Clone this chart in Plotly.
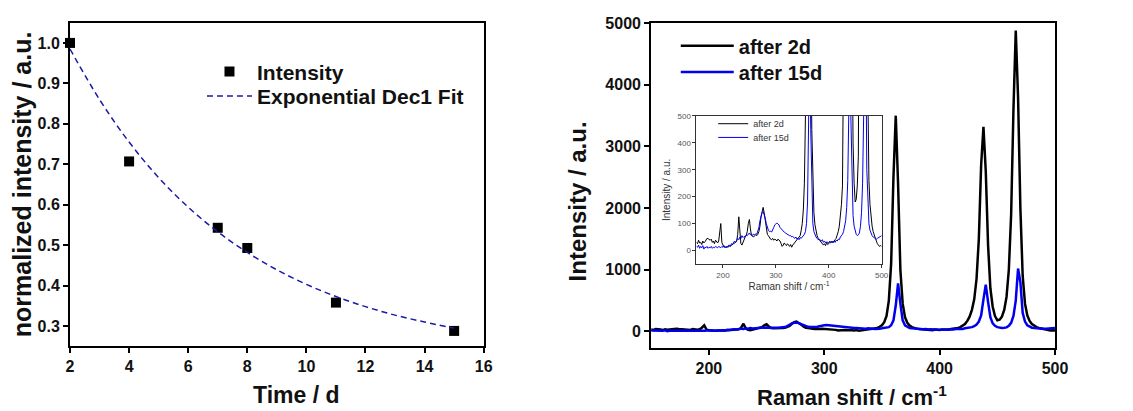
import plotly.graph_objects as go

W, H = 1133, 411

# ---------------- data: left panel ----------------
time_d = [2, 4, 7, 8, 11, 15]
norm_int = [1.0, 0.707, 0.543, 0.493, 0.358, 0.288]
fit_x = [2, 3, 4, 5, 6, 7, 8, 9, 10, 11, 12, 13, 14, 15]
fit_y = [0.985, 0.86, 0.755, 0.667, 0.594, 0.533, 0.482, 0.439, 0.403, 0.373, 0.348, 0.327, 0.310, 0.295]

# ---------------- data: right panel (Raman spectra) ----------------
raman_shift = list(range(150, 501, 2))
after_2d = [
    30, 25, 38, 28, 30, 22, 35, 28, 32, 40,      # 150-168
    45, 44, 40, 38, 42, 30, 35, 25, 38, 30,      # 170-188
    28, 35, 60, 100, 30, 18, 12, 15, 10, 14,     # 190-208
    12, 18, 15, 20, 22, 25, 28, 30, 35, 60,      # 210-228
    125, 50, 25, 20, 30, 45, 50, 55, 70, 100,    # 230-248
    115, 80, 55, 52, 50, 55, 58, 55, 60, 70,     # 250-268
    90, 125, 150, 160, 140, 110, 80, 60, 55, 45, # 270-288
    42, 40, 45, 38, 42, 40, 35, 42, 38, 35,      # 290-308
    25, 15, 20, 28, 22, 18, 25, 20, 15, 22,      # 310-328
    12, 20, 25, 30, 32, 40, 45, 50, 55, 75,      # 330-348
    100, 150, 250, 500, 1100, 2500, 3500, 2400, 1000, 450,  # 350-368
    230, 140, 95, 70, 55, 45, 40, 35, 30, 25,    # 370-388
    20, 25, 18, 30, 22, 25, 30, 28, 35, 30,      # 390-408
    38, 40, 45, 55, 70, 90, 120, 170, 240, 350,  # 410-428
    520, 850, 1500, 2700, 3320, 2600, 1400, 700, 400, 250,  # 430-448
    180, 190, 240, 350, 560, 1000, 1900, 3600, 4880, 3800,  # 450-468
    2000, 900, 450, 260, 170, 120, 90, 70, 55, 45,  # 470-488
    35, 25, 20, 15, 18, 15,                      # 490-500
]
after_15d = [
    15, 12, 20, 8, 15, 10, 18, 5, 12, 10,        # 150-168
    15, 8, 12, 10, 15, 8, 12, 10, 15, 12,        # 170-188
    10, 15, 12, 10, 15, 12, 18, 10, 15, 12,      # 190-208
    18, 20, 15, 25, 22, 30, 35, 30, 40, 45,      # 210-228
    40, 50, 45, 55, 48, 52, 50, 58, 55, 60,      # 230-248
    65, 58, 62, 55, 60, 58, 62, 60, 70, 85,      # 250-268
    110, 130, 140, 145, 135, 120, 100, 85, 75, 70,  # 270-288
    72, 68, 75, 85, 95, 100, 102, 98, 95, 85,    # 290-308
    80, 75, 70, 68, 65, 62, 60, 58, 55, 55,      # 310-328
    50, 52, 48, 45, 50, 42, 45, 40, 48, 45,      # 330-348
    50, 55, 60, 70, 100, 180, 420, 780, 450, 180,  # 350-368
    100, 70, 55, 50, 45, 40, 42, 38, 35, 40,     # 370-388
    30, 35, 28, 32, 30, 28, 35, 30, 32, 28,      # 390-408
    35, 30, 38, 35, 42, 40, 50, 55, 60, 70,      # 410-428
    85, 110, 160, 260, 520, 760, 480, 230, 130, 90,  # 430-448
    70, 60, 55, 58, 65, 90, 140, 250, 500, 1020,  # 450-468
    800, 300, 160, 100, 75, 60, 55, 50, 48, 45,  # 470-488
    42, 45, 48, 50, 55, 55,                      # 490-500
]

FONT = "Liberation Sans, Arial, sans-serif"
BLACK = "#000000"
BLUE = "#0000ee"
FIT_BLUE = "#1a1aa8"


def px_x(v):
    return v / W


def px_y(v):
    return 1 - v / H


fig = go.Figure()

# left panel
fig.add_trace(go.Scatter(
    x=time_d, y=norm_int, mode="markers", name="Intensity",
    marker=dict(symbol="square", size=10, color=BLACK),
    xaxis="x", yaxis="y", legend="legend", cliponaxis=False, showlegend=True,
))
fig.add_trace(go.Scatter(
    x=fit_x, y=fit_y, mode="lines", name="Exponential Dec1 Fit",
    line=dict(color=FIT_BLUE, width=1.5, dash="6px,4px", shape="spline"),
    xaxis="x", yaxis="y", legend="legend4", showlegend=True,
))

# right panel main
fig.add_trace(go.Scatter(
    x=raman_shift, y=after_2d, mode="lines", name="after 2d",
    line=dict(color=BLACK, width=2.5), xaxis="x2", yaxis="y2", legend="legend2",
    showlegend=True,
))
fig.add_trace(go.Scatter(
    x=raman_shift, y=after_15d, mode="lines", name="after 15d",
    line=dict(color=BLUE, width=2.5), xaxis="x2", yaxis="y2", legend="legend5",
    showlegend=True,
))

# inset
fig.add_trace(go.Scatter(
    x=raman_shift, y=after_2d, mode="lines", name="after 2d",
    line=dict(color=BLACK, width=1), xaxis="x3", yaxis="y3", legend="legend3",
    showlegend=True,
))
fig.add_trace(go.Scatter(
    x=raman_shift, y=after_15d, mode="lines", name="after 15d",
    line=dict(color=BLUE, width=1), xaxis="x3", yaxis="y3", legend="legend6",
    showlegend=True,
))

bold = dict(family=FONT, weight="bold", color="#111")

main_axis = dict(
    showline=True, linecolor=BLACK, linewidth=2, mirror=True,
    ticks="outside", ticklen=5, tickwidth=1.5, tickcolor=BLACK,
    showgrid=False, zeroline=False,
)


def one_legend(xp, yc, size, iw, color="#111", weight="bold"):
    return dict(
        x=px_x(xp), y=px_y(yc), xanchor="left", yanchor="middle",
        font=dict(size=size, family=FONT, weight=weight, color=color),
        bgcolor="rgba(0,0,0,0)", itemwidth=iw, tracegroupgap=0, visible=True,
    )


fig.update_layout(
    width=W, height=H,
    margin=dict(l=0, r=0, t=0, b=0),
    paper_bgcolor="white", plot_bgcolor="white",
    showlegend=True,
    xaxis=dict(
        **main_axis, domain=[px_x(67), px_x(487)], range=[2, 16],
        tickvals=[2, 4, 6, 8, 10, 12, 14, 16],
        tickfont=dict(size=16, **bold), anchor="y",
    ),
    yaxis=dict(
        **main_axis, domain=[px_y(345), px_y(15)], range=[0.25, 1.05],
        tickvals=[0.3, 0.4, 0.5, 0.6, 0.7, 0.8, 0.9, 1.0], tickformat=".1f",
        tickfont=dict(size=16, **bold), anchor="x",
    ),
    xaxis2=dict(
        **main_axis, domain=[px_x(657), px_x(1067)], range=[150, 500],
        tickvals=[200, 300, 400, 500],
        tickfont=dict(size=16, **bold), anchor="y2",
    ),
    yaxis2=dict(
        **main_axis, domain=[px_y(346.5), px_y(15.5)], range=[-265, 5000],
        tickvals=[0, 1000, 2000, 3000, 4000, 5000],
        tickfont=dict(size=16, **bold), anchor="x2",
    ),
    xaxis3=dict(
        showline=True, linecolor="#333", linewidth=1, mirror=True,
        ticks="outside", ticklen=3, tickwidth=1, tickcolor="#333",
        showgrid=False, zeroline=False,
        domain=[px_x(703), px_x(891)], range=[150, 500],
        tickvals=[200, 300, 400, 500],
        tickfont=dict(size=8, family=FONT, color="#555"),
        title=dict(text="Raman shift / cm<sup>-1</sup>", font=dict(size=10, family=FONT, color="#333"), standoff=3),
        anchor="y3",
    ),
    yaxis3=dict(
        showline=True, linecolor="#333", linewidth=1, mirror=True,
        ticks="outside", ticklen=3, tickwidth=1, tickcolor="#333",
        showgrid=False, zeroline=False,
        domain=[px_y(261), px_y(110)], range=[-50, 500],
        tickvals=[0, 100, 200, 300, 400, 500],
        tickfont=dict(size=8, family=FONT, color="#555"),
        title=dict(text="Intensity / a.u.", font=dict(size=10, family=FONT, color="#333"), standoff=4),
        anchor="x3",
    ),
    legend=one_legend(201, 65, 21, 45),
    legend4=one_legend(201, 90, 21, 45),
    legend2=one_legend(682, 38.5, 20, 53),
    legend5=one_legend(682, 65.2, 20, 53),
    legend3=one_legend(720, 118, 9, 30, color="#333", weight="normal"),
    legend6=one_legend(720, 132, 9, 30, color="#333", weight="normal"),
    annotations=[
        dict(text="Time / d", x=px_x(297), y=px_y(395), xref="paper", yref="paper",
             xanchor="center", yanchor="middle", showarrow=False,
             font=dict(size=23, **bold)),
        dict(text="normalized intensity / a.u.", x=px_x(19), y=px_y(180), xref="paper", yref="paper",
             xanchor="center", yanchor="middle", showarrow=False, textangle=-90,
             font=dict(size=25, **bold)),
        dict(text="Raman shift / cm<sup>-1</sup>", x=px_x(861), y=px_y(396), xref="paper", yref="paper",
             xanchor="center", yanchor="middle", showarrow=False,
             font=dict(size=22, **bold)),
        dict(text="Intensity / a.u.", x=px_x(582), y=px_y(197), xref="paper", yref="paper",
             xanchor="center", yanchor="middle", showarrow=False, textangle=-90,
             font=dict(size=24, **bold)),
    ],
)

fig.write_html("out.html")
